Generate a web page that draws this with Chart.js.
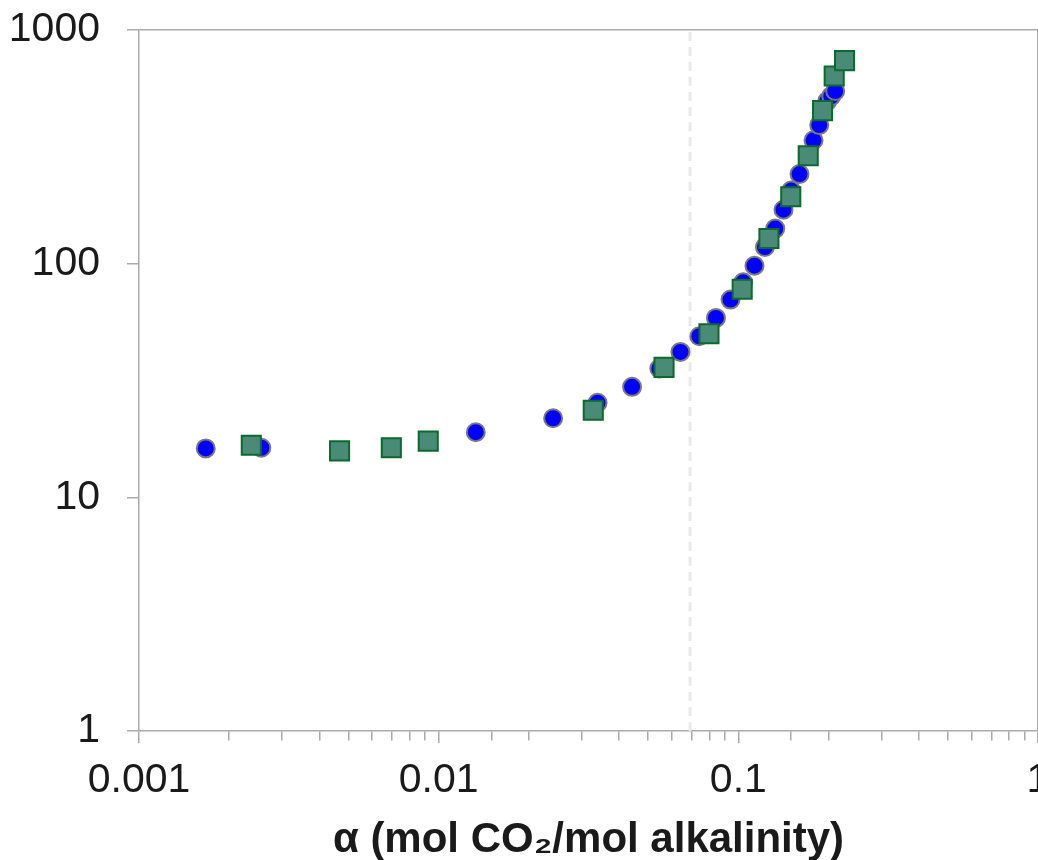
<!DOCTYPE html>
<html lang="en">
<head>
    <meta charset="UTF-8">
    <title>CO2 loading curve</title>
    <script src="https://cdn.jsdelivr.net/npm/chart.js"></script>
    <style>
        html, body {
            margin: 0;
            padding: 0;
            background: #fff;
            overflow: hidden;
        }
        .chartBox {
            width: 1060px;
            height: 860px;
        }
    </style>
</head>
<body>
<div class="chartBox">
    <canvas id="loadingChart"></canvas>
</div>
<script>
    // series 1 (circles)
    let alphaCircles = [0.00167, 0.00256, 0.0133, 0.0241, 0.0339, 0.0442, 0.0545, 0.0641, 0.0741, 0.0842,
        0.0942, 0.1038, 0.1132, 0.1227, 0.1328, 0.1415, 0.1501, 0.1600, 0.1782, 0.1862, 0.1980, 0.2042, 0.2105];
    let valueCircles = [16.2, 16.3, 19.0, 21.8, 25.4, 29.7, 35.6, 41.9, 48.9, 58.6,
        70.2, 83.2, 98.0, 117.8, 141.3, 170.2, 205.5, 241.7, 337.3, 391.8, 496, 521, 548];

    // series 2 (squares)
    let alphaSquares = [0.00237, 0.00467, 0.00695, 0.00923, 0.0328, 0.0565, 0.0798, 0.1030, 0.1265, 0.1496,
        0.1711, 0.1910, 0.2089, 0.2262];
    let valueSquares = [16.7, 15.8, 16.3, 17.4, 23.6, 36.0, 50.1, 77.7, 128.1, 193.3,
        289.6, 451.9, 635.1, 739.6];

    // dashed marker line
    let markerAlpha = 0.069;

    let xMin = 0.001, xMax = 1;
    let yMin = 1, yMax = 1000;

    let axisGray = '#aaaaaa';
    let fontFamily = "'Liberation Sans', Arial, sans-serif";

    function toPoints(xs, ys) {
        return xs.map(function(x, i) {
            return {x: x, y: ys[i]};
        });
    }

    function isDecade(v) {
        let l = Math.log10(v);
        return Math.abs(l - Math.round(l)) < 1e-9;
    }

    function decadeLabel(v) {
        return isDecade(v) ? String(v) : '';
    }

    new Chart(document.getElementById('loadingChart'), {
        type: 'scatter',
        data: {
            datasets: [
                {
                    label: 'squares',
                    data: toPoints(alphaSquares, valueSquares),
                    pointStyle: 'rect',
                    pointRadius: 13.5,
                    pointBackgroundColor: '#4a8b78',
                    pointBorderColor: '#0b6a2c',
                    pointBorderWidth: 2,
                    order: 0
                },
                {
                    label: 'circles',
                    data: toPoints(alphaCircles, valueCircles),
                    pointStyle: 'circle',
                    pointRadius: 9,
                    pointBackgroundColor: '#0000ff',
                    pointBorderColor: '#7a7a7a',
                    pointBorderWidth: 2,
                    order: 1
                },
                {
                    type: 'line',
                    label: 'marker',
                    data: [{x: markerAlpha, y: yMin}, {x: markerAlpha, y: yMax}],
                    borderColor: '#e9e9e9',
                    borderWidth: 3,
                    borderDash: [9, 6],
                    pointRadius: 0,
                    order: 2
                }
            ]
        },
        options: {
            responsive: true,
            maintainAspectRatio: false,
            animation: false,
            layout: {
                padding: {left: 11, right: 22, top: 30, bottom: 0}
            },
            plugins: {
                legend: {display: false},
                tooltip: {enabled: false}
            },
            scales: {
                x: {
                    type: 'logarithmic',
                    min: xMin,
                    max: xMax,
                    afterFit: function(scale) {
                        // fixed band under the plot, no extra side padding for end labels
                        scale.height = 129;
                        scale.paddingLeft = 0;
                        scale.paddingRight = 0;
                    },
                    border: {color: axisGray, width: 1.5},
                    grid: {
                        color: function(ctx) {
                            return ctx.tick && ctx.tick.value === xMax ? axisGray : 'transparent';
                        },
                        lineWidth: 1.5,
                        tickColor: axisGray,
                        tickWidth: 1.5,
                        tickLength: 12,
                        tickBorderDash: function(ctx) {
                            return ctx.tick && isDecade(ctx.tick.value) ? [] : [9, 100];
                        }
                    },
                    ticks: {
                        autoSkip: false,
                        maxRotation: 0,
                        padding: 13,
                        color: '#1a1a1a',
                        font: {family: fontFamily, size: 41},
                        callback: decadeLabel
                    },
                    title: {
                        display: true,
                        text: 'α (mol CO₂/mol alkalinity)',
                        color: '#1a1a1a',
                        font: {family: fontFamily, size: 42, weight: 'bold', lineHeight: 1},
                        padding: {top: 0, bottom: -1}
                    }
                },
                y: {
                    type: 'logarithmic',
                    min: yMin,
                    max: yMax,
                    afterFit: function(scale) {
                        scale.width = 128;
                        scale.paddingTop = 0;
                        scale.paddingBottom = 0;
                    },
                    border: {color: axisGray, width: 1.5},
                    grid: {
                        color: function(ctx) {
                            return ctx.tick && ctx.tick.value === yMax ? axisGray : 'transparent';
                        },
                        lineWidth: 1.5,
                        tickColor: function(ctx) {
                            return ctx.tick && isDecade(ctx.tick.value) ? axisGray : 'transparent';
                        },
                        tickWidth: 1.5,
                        tickLength: 12
                    },
                    ticks: {
                        autoSkip: false,
                        padding: 27,
                        color: '#1a1a1a',
                        font: {family: fontFamily, size: 41},
                        callback: decadeLabel
                    }
                }
            }
        }
    });
</script>
</body>
</html>
